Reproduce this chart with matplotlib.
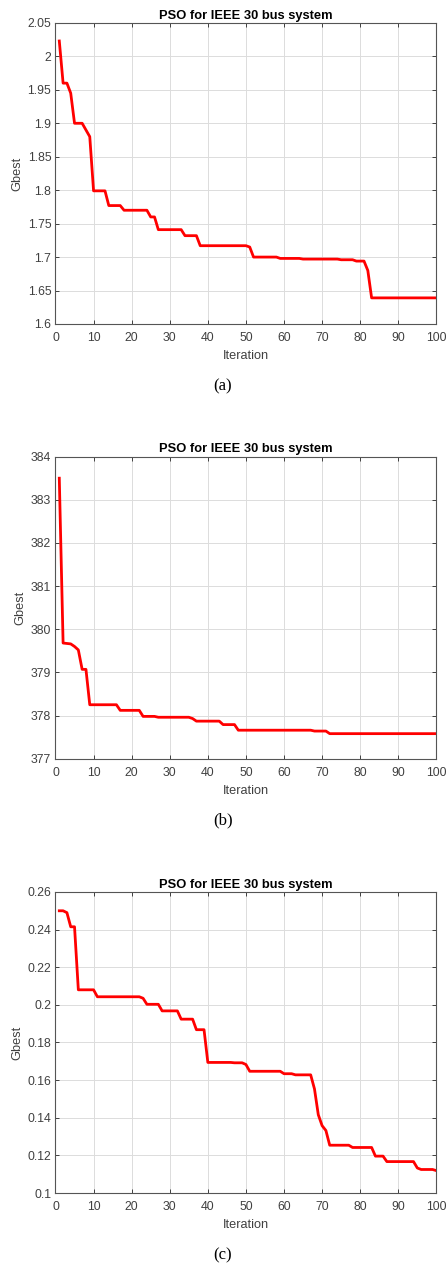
import matplotlib
matplotlib.use('Agg')
import matplotlib.pyplot as plt

plt.rcParams['font.family'] = ['Liberation Sans', 'DejaVu Sans']

# ''' dados (iteracoes 1..100) '''
iteration = list(range(1, 101))

gbest_a = [2.023, 1.960, 1.960, 1.945, 1.900, 1.900, 1.900, 1.890, 1.880, 1.799,
           1.799, 1.799, 1.799, 1.777, 1.777, 1.777, 1.777, 1.770, 1.770, 1.770,
           1.770, 1.770, 1.770, 1.770, 1.760, 1.760, 1.741, 1.741, 1.741, 1.741,
           1.741, 1.741, 1.741, 1.732, 1.732, 1.732, 1.732, 1.717, 1.717, 1.717,
           1.717, 1.717, 1.717, 1.717, 1.717, 1.717, 1.717, 1.717, 1.717, 1.717,
           1.715, 1.700, 1.700, 1.700, 1.700, 1.700, 1.700, 1.700, 1.698, 1.698,
           1.698, 1.698, 1.698, 1.698, 1.697, 1.697, 1.697, 1.697, 1.697, 1.697,
           1.697, 1.697, 1.697, 1.697, 1.696, 1.696, 1.696, 1.696, 1.694, 1.694,
           1.694, 1.680, 1.639, 1.639, 1.639, 1.639, 1.639, 1.639, 1.639, 1.639,
           1.639, 1.639, 1.639, 1.639, 1.639, 1.639, 1.639, 1.639, 1.639, 1.639]

gbest_b = [383.50, 379.68, 379.67, 379.66, 379.60, 379.52, 379.07, 379.07, 378.25, 378.25,
           378.25, 378.25, 378.25, 378.25, 378.25, 378.25, 378.12, 378.12, 378.12, 378.12,
           378.12, 378.12, 377.98, 377.98, 377.98, 377.98, 377.96, 377.96, 377.96, 377.96,
           377.96, 377.96, 377.96, 377.96, 377.96, 377.93, 377.87, 377.87, 377.87, 377.87,
           377.87, 377.87, 377.87, 377.79, 377.79, 377.79, 377.79, 377.66, 377.66, 377.66,
           377.66, 377.66, 377.66, 377.66, 377.66, 377.66, 377.66, 377.66, 377.66, 377.66,
           377.66, 377.66, 377.66, 377.66, 377.66, 377.66, 377.66, 377.64, 377.64, 377.64,
           377.64, 377.58, 377.58, 377.58, 377.58, 377.58, 377.58, 377.58, 377.58, 377.58,
           377.58, 377.58, 377.58, 377.58, 377.58, 377.58, 377.58, 377.58, 377.58, 377.58,
           377.58, 377.58, 377.58, 377.58, 377.58, 377.58, 377.58, 377.58, 377.58, 377.58]

gbest_c = [0.2500, 0.2500, 0.2490, 0.2415, 0.2415, 0.2080, 0.2080, 0.2080, 0.2080, 0.2080,
           0.2043, 0.2043, 0.2043, 0.2043, 0.2043, 0.2043, 0.2043, 0.2043, 0.2043, 0.2043,
           0.2043, 0.2043, 0.2035, 0.2003, 0.2003, 0.2003, 0.2003, 0.1968, 0.1968, 0.1968,
           0.1968, 0.1968, 0.1924, 0.1924, 0.1924, 0.1924, 0.1868, 0.1868, 0.1868, 0.1694,
           0.1694, 0.1694, 0.1694, 0.1694, 0.1694, 0.1694, 0.1692, 0.1692, 0.1692, 0.1683,
           0.1647, 0.1647, 0.1647, 0.1647, 0.1647, 0.1647, 0.1647, 0.1647, 0.1647, 0.1634,
           0.1634, 0.1634, 0.1628, 0.1628, 0.1628, 0.1628, 0.1628, 0.1553, 0.1416, 0.1358,
           0.1332, 0.1254, 0.1254, 0.1254, 0.1254, 0.1254, 0.1254, 0.1242, 0.1242, 0.1242,
           0.1242, 0.1242, 0.1242, 0.1196, 0.1196, 0.1196, 0.1167, 0.1167, 0.1167, 0.1167,
           0.1167, 0.1167, 0.1167, 0.1167, 0.1133, 0.1125, 0.1125, 0.1125, 0.1125, 0.1119]

yticks_a = [1.6, 1.65, 1.7, 1.75, 1.8, 1.85, 1.9, 1.95, 2.0, 2.05]
ylabels_a = ['1.6', '1.65', '1.7', '1.75', '1.8', '1.85', '1.9', '1.95', '2', '2.05']
yticks_b = [377, 378, 379, 380, 381, 382, 383, 384]
ylabels_b = ['377', '378', '379', '380', '381', '382', '383', '384']
yticks_c = [0.1, 0.12, 0.14, 0.16, 0.18, 0.2, 0.22, 0.24, 0.26]
ylabels_c = ['0.1', '0.12', '0.14', '0.16', '0.18', '0.2', '0.22', '0.24', '0.26']
xticks = [0, 10, 20, 30, 40, 50, 60, 70, 80, 90, 100]

panels = [
    (gbest_a, yticks_a, ylabels_a, '(a)', [0.1244, 0.7443, 0.854, 0.2376], 0.6953),
    (gbest_b, yticks_b, ylabels_b, '(b)', [0.1244, 0.4012, 0.854, 0.2384], 0.3523),
    (gbest_c, yticks_c, ylabels_c, '(c)', [0.1244, 0.0584, 0.854, 0.2376], 0.0089),
]

fig = plt.figure(figsize=(4.46, 12.67), dpi=100)
tick_col = '#404040'

for values, yt, yl, tag, rect, tag_y in panels:
    ax = fig.add_axes(rect)
    ax.plot(iteration, values, color='#ff0000', lw=2.0)
    ax.set_xlim(0, 100)
    ax.set_ylim(yt[0], yt[-1])
    ax.set_xticks(xticks)
    ax.set_yticks(yt)
    ax.set_yticklabels(yl)
    ax.grid(True, color='#dcdcdc', lw=0.7)
    ax.set_axisbelow(True)
    ax.tick_params(direction='in', length=3, width=0.7, top=True, right=True,
                   labelsize=8.8, colors=tick_col)
    ax.tick_params(axis='x', pad=6)
    ax.tick_params(axis='y', pad=3)
    for s in ax.spines.values():
        s.set_color('#555555')
        s.set_linewidth(0.8)
    ax.set_title('PSO for IEEE 30 bus system', fontsize=9.3, fontweight='bold', pad=3)
    ax.set_xlabel('Iteration', fontsize=9.2, color=tick_col, labelpad=4)
    ax.set_ylabel('Gbest', fontsize=9.2, color=tick_col, labelpad=3)
    fig.text(0.5, tag_y, tag, ha='center', va='center', fontsize=12,
             family=['Liberation Serif', 'DejaVu Serif'])

fig.savefig('out.png', dpi=100)
